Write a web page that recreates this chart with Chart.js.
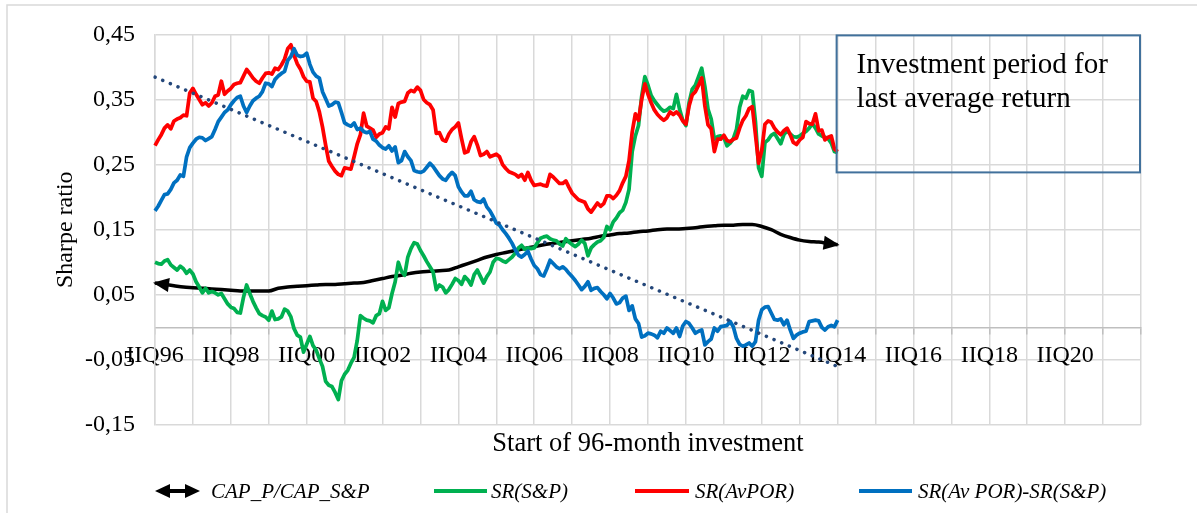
<!DOCTYPE html>
<html>
<head>
<meta charset="utf-8">
<script src="https://cdn.jsdelivr.net/npm/chart.js@4.4.1/dist/chart.umd.min.js"></script>
<style>
  html, body { margin: 0; padding: 0; background: #fff; }
  #wrap { width: 1197px; height: 513px; }
</style>
</head>
<body>
<div id="wrap"><canvas id="sharpeChart" width="1197" height="513"></canvas></div>
<script>
// Tháng bắt đầu đầu tư (IIQ96 = 04/1996), trục kéo dài tới IIQ22
const MONTH_NAMES = ['Jan','Feb','Mar','Apr','May','Jun','Jul','Aug','Sep','Oct','Nov','Dec'];
const months = [];
for (let i = 0; i <= 312; i++) {
    const m = 3 + i;
    months.push(MONTH_NAMES[m % 12] + ' ' + (1996 + Math.floor(m / 12)));
}

// Nhãn trục x, mỗi 2 năm
const xTickLabels = ['IIQ96','IIQ98','IIQ00','IIQ02','IIQ04','IIQ06','IIQ08','IIQ10','IIQ12','IIQ14','IIQ16','IIQ18','IIQ20'];

// SR(AvPOR), theo tháng
const srAvPor = [
    0.279,0.288,0.296,0.306,0.311,0.305,0.317,0.320,0.322,0.326,
    0.325,0.360,0.367,0.358,0.350,0.342,0.345,0.340,0.345,0.355,
    0.357,0.378,0.358,0.363,0.367,0.373,0.375,0.376,0.386,0.396,
    0.390,0.383,0.378,0.375,0.383,0.390,0.391,0.389,0.398,0.396,
    0.403,0.412,0.428,0.434,0.418,0.405,0.397,0.385,0.378,0.377,
    0.352,0.347,0.331,0.308,0.280,0.255,0.247,0.240,0.235,0.233,
    0.245,0.244,0.243,0.262,0.282,0.296,0.329,0.309,0.306,0.303,
    0.292,0.297,0.299,0.308,0.305,0.338,0.323,0.344,0.346,0.347,
    0.360,0.364,0.362,0.369,0.364,0.350,0.345,0.342,0.334,0.298,
    0.299,0.288,0.286,0.297,0.304,0.308,0.314,0.290,0.268,0.270,
    0.285,0.293,0.280,0.264,0.266,0.270,0.262,0.264,0.266,0.262,
    0.250,0.244,0.239,0.237,0.235,0.231,0.235,0.226,0.238,0.226,
    0.218,0.219,0.220,0.218,0.217,0.235,0.231,0.226,0.221,0.221,
    0.225,0.215,0.206,0.201,0.196,0.194,0.192,0.182,0.177,0.184,
    0.191,0.186,0.190,0.202,0.202,0.198,0.203,0.210,0.222,0.232,
    0.256,0.300,0.328,0.318,0.350,0.374,0.358,0.345,0.334,0.327,
    0.322,0.318,0.322,0.331,0.327,0.331,0.326,0.317,0.312,0.340,
    0.357,0.362,0.372,0.383,0.340,0.311,0.305,0.270,0.289,0.289,
    0.295,0.287,0.285,0.289,0.291,0.306,0.318,0.325,0.336,0.339,
    0.296,0.252,0.272,0.312,0.317,0.315,0.306,0.300,0.296,0.302,
    0.306,0.296,0.284,0.281,0.288,0.292,0.316,0.313,0.312,0.328,
    0.302,0.303,0.288,0.292,0.294,0.274,0.270
];

// SR(S&P), theo tháng
const srSP = [
    0.100,0.098,0.097,0.102,0.104,0.096,0.092,0.088,0.094,0.090,
    0.083,0.088,0.082,0.070,0.062,0.053,0.060,0.053,0.055,0.053,
    0.050,0.052,0.044,0.036,0.031,0.029,0.023,0.022,0.046,0.065,
    0.052,0.040,0.030,0.021,0.018,0.016,0.011,0.025,0.012,0.013,
    0.016,0.028,0.025,0.016,-0.002,-0.012,-0.015,-0.038,-0.026,-0.014,
    -0.028,-0.035,-0.048,-0.060,-0.083,-0.089,-0.091,-0.100,-0.111,-0.082,
    -0.072,-0.066,-0.055,-0.046,-0.020,0.018,0.014,0.011,0.010,0.007,
    0.018,0.021,0.040,0.026,0.030,0.052,0.070,0.100,0.086,0.080,
    0.108,0.121,0.130,0.128,0.118,0.110,0.101,0.093,0.085,0.058,
    0.065,0.062,0.053,0.058,0.066,0.075,0.072,0.066,0.078,0.073,
    0.065,0.081,0.088,0.078,0.068,0.078,0.085,0.100,0.106,0.105,
    0.102,0.100,0.104,0.108,0.114,0.122,0.126,0.120,0.122,0.121,
    0.122,0.130,0.137,0.139,0.140,0.136,0.134,0.133,0.128,0.125,
    0.136,0.131,0.127,0.124,0.128,0.134,0.129,0.110,0.122,0.127,
    0.131,0.133,0.138,0.155,0.150,0.162,0.168,0.176,0.180,0.192,
    0.212,0.270,0.294,0.310,0.355,0.385,0.372,0.356,0.348,0.342,
    0.336,0.332,0.334,0.338,0.336,0.358,0.335,0.318,0.310,0.345,
    0.366,0.372,0.385,0.398,0.370,0.335,0.320,0.289,0.293,0.294,
    0.292,0.279,0.283,0.290,0.304,0.338,0.355,0.352,0.364,0.362,
    0.316,0.245,0.232,0.284,0.288,0.295,0.298,0.290,0.282,0.296,
    0.302,0.297,0.293,0.292,0.294,0.298,0.301,0.306,0.313,0.306,
    0.297,0.294,0.292,0.290,0.283,0.270,0.268
];

// SR(Av POR)-SR(S&P), theo tháng
const srDiff = [
    0.179,0.186,0.195,0.204,0.205,0.212,0.222,0.226,0.234,0.232,
    0.262,0.276,0.283,0.289,0.292,0.291,0.287,0.290,0.293,0.304,
    0.316,0.323,0.330,0.334,0.342,0.348,0.353,0.355,0.340,0.330,
    0.340,0.348,0.352,0.355,0.362,0.375,0.374,0.370,0.381,0.386,
    0.390,0.393,0.410,0.416,0.428,0.418,0.416,0.417,0.421,0.404,
    0.392,0.386,0.383,0.362,0.351,0.340,0.342,0.346,0.345,0.330,
    0.314,0.311,0.309,0.314,0.304,0.306,0.301,0.299,0.301,0.289,
    0.286,0.280,0.276,0.274,0.279,0.271,0.277,0.253,0.256,0.270,
    0.262,0.256,0.241,0.239,0.238,0.240,0.246,0.252,0.247,0.240,
    0.233,0.228,0.226,0.233,0.238,0.233,0.216,0.208,0.202,0.202,
    0.209,0.196,0.193,0.192,0.197,0.185,0.179,0.170,0.160,0.157,
    0.150,0.144,0.137,0.129,0.119,0.111,0.108,0.112,0.117,0.105,
    0.095,0.090,0.081,0.079,0.090,0.103,0.098,0.093,0.090,0.093,
    0.089,0.083,0.078,0.072,0.065,0.058,0.063,0.070,0.057,0.060,
    0.061,0.055,0.050,0.044,0.052,0.045,0.036,0.038,0.045,0.048,
    0.026,0.033,0.013,0.006,-0.015,-0.013,-0.009,-0.010,-0.012,-0.016,
    -0.006,-0.009,-0.001,-0.005,-0.009,-0.001,-0.014,0.002,0.009,0.006,
    -0.001,-0.009,-0.006,-0.004,-0.027,-0.022,-0.018,-0.001,-0.006,0.001,
    0.002,0.003,0.009,0.001,-0.017,-0.026,-0.029,-0.027,-0.024,-0.029,
    -0.022,0.011,0.027,0.031,0.032,0.022,0.012,0.011,0.013,0.004,
    0.011,-0.004,-0.017,-0.012,-0.009,-0.007,-0.006,0.009,0.010,0.011,
    0.010,0.000,-0.004,0.001,0.003,0.001,0.011
];

// CAP_P/CAP_S&P, theo quý (mỗi 3 tháng)
const capRatio = [
    0.068,0.066,0.064,0.062,0.061,0.060,0.059,0.058,0.057,0.056,
    0.056,0.056,0.056,0.060,0.062,0.063,0.064,0.065,0.066,0.066,
    0.067,0.068,0.069,0.072,0.075,0.078,0.080,0.083,0.085,0.086,
    0.087,0.088,0.093,0.098,0.103,0.108,0.112,0.115,0.118,0.121,
    0.124,0.127,0.129,0.131,0.133,0.135,0.137,0.140,0.142,0.144,
    0.145,0.147,0.148,0.150,0.151,0.151,0.152,0.153,0.155,0.156,
    0.157,0.157,0.158,0.158,0.155,0.150,0.143,0.138,0.134,0.132,
    0.131,0.129,0.127
];

const FONT = '"Liberation Serif", "Times New Roman", serif';
const COLORS = { cap: '#000000', sp: '#00B050', por: '#FF0000', diff: '#0070C0', trend: '#24477A' };

// Đường xu hướng tuyến tính (bình phương nhỏ nhất) của SR(Av POR)-SR(S&P)
function linearTrend(values) {
    const n = values.length;
    let sx = 0, sy = 0, sxy = 0, sxx = 0;
    values.forEach((v, i) => { sx += i; sy += v; sxy += i * v; sxx += i * i; });
    const b = (n * sxy - sx * sy) / (n * sxx - sx * sx);
    const a = (sy - b * sx) / n;
    return [{ x: months[0], y: a }, { x: months[n - 1], y: a + b * (n - 1) }];
}

function arrowHead(ctx, tip, from, len, half) {
    const ang = Math.atan2(tip.y - from.y, tip.x - from.x);
    ctx.save();
    ctx.translate(tip.x, tip.y);
    ctx.rotate(ang);
    ctx.beginPath();
    ctx.moveTo(2, 0);
    ctx.lineTo(2 - len, -half);
    ctx.lineTo(2 - len, half);
    ctx.closePath();
    ctx.fill();
    ctx.restore();
}

// Vẽ phần trang trí: viền, mũi tên, hộp chú thích, tiêu đề trục x, chú giải
const decorPlugin = {
    id: 'decor',
    beforeDraw(chart) {
        const ctx = chart.ctx;
        ctx.save();
        ctx.fillStyle = '#fff';
        ctx.fillRect(0, 0, chart.width, chart.height);
        ctx.strokeStyle = '#D9D9D9';
        ctx.lineWidth = 1.5;
        ctx.strokeRect(7, 5, chart.width + 20, chart.height + 20);
        ctx.restore();
    },
    afterDatasetsDraw(chart) {
        const ctx = chart.ctx;
        const idx = chart.data.datasets.findIndex(d => d.label === 'CAP_P/CAP_S&P');
        const pts = chart.getDatasetMeta(idx).data;
        ctx.save();
        ctx.fillStyle = COLORS.cap;
        arrowHead(ctx, pts[0], pts[1], 16, 7);
        arrowHead(ctx, pts[pts.length - 1], pts[pts.length - 2], 16, 7);
        ctx.restore();
    },
    afterDraw(chart) {
        const ctx = chart.ctx;
        const area = chart.chartArea;
        const x = chart.scales.x;
        ctx.save();

        // Hộp "Investment period for last average return"
        const bx = x.getPixelForValue(216) - 1;
        ctx.strokeStyle = '#41719C';
        ctx.lineWidth = 2;
        ctx.strokeRect(bx, area.top + 1, area.right - 1 - bx, 137);
        ctx.fillStyle = '#000';
        ctx.font = '29px ' + FONT;
        ctx.textAlign = 'left';
        ctx.textBaseline = 'alphabetic';
        ctx.fillText('Investment period for', bx + 20, area.top + 39);
        ctx.fillText('last average return', bx + 20, area.top + 73);

        // Tiêu đề trục x
        ctx.font = '26.5px ' + FONT;
        ctx.textAlign = 'center';
        ctx.fillText('Start of 96-month investment', (area.left + area.right) / 2, area.bottom + 26);

        // Chú giải
        const items = [
            { label: 'CAP_P/CAP_S&P', color: COLORS.cap, arrow: true, x0: 155, x1: 200, tx: 211 },
            { label: 'SR(S&P)', color: COLORS.sp, x0: 434, x1: 487, tx: 491 },
            { label: 'SR(AvPOR)', color: COLORS.por, x0: 635, x1: 689, tx: 695 },
            { label: 'SR(Av POR)-SR(S&P)', color: COLORS.diff, x0: 859, x1: 912, tx: 918 }
        ];
        const ly = 491;
        ctx.font = 'italic 21px ' + FONT;
        ctx.textAlign = 'left';
        ctx.textBaseline = 'middle';
        items.forEach(it => {
            ctx.strokeStyle = it.color;
            ctx.fillStyle = it.color;
            ctx.lineWidth = 4;
            ctx.beginPath();
            ctx.moveTo(it.x0 + (it.arrow ? 8 : 0), ly);
            ctx.lineTo(it.x1 - (it.arrow ? 8 : 0), ly);
            ctx.stroke();
            if (it.arrow) {
                arrowHead(ctx, { x: it.x1 - 2, y: ly }, { x: it.x0, y: ly }, 15, 7);
                arrowHead(ctx, { x: it.x0 + 2, y: ly }, { x: it.x1, y: ly }, 15, 7);
            }
            ctx.fillStyle = '#000';
            ctx.fillText(it.label, it.tx, ly + 1);
        });
        ctx.restore();
    }
};

const lineStyle = { pointRadius: 0, borderWidth: 3.75, fill: false, tension: 0, borderJoinStyle: 'round' };

new Chart(document.getElementById('sharpeChart'), {
    type: 'line',
    data: {
        labels: months,
        datasets: [
            { label: 'Trend', data: linearTrend(srDiff), borderColor: COLORS.trend, borderWidth: 3.5,
              borderDash: [0.1, 8.2], borderCapStyle: 'round', pointRadius: 0, fill: false },
            { label: 'SR(Av POR)-SR(S&P)', data: srDiff, borderColor: COLORS.diff, ...lineStyle },
            { label: 'SR(AvPOR)', data: srAvPor, borderColor: COLORS.por, ...lineStyle },
            { label: 'SR(S&P)', data: srSP, borderColor: COLORS.sp, ...lineStyle },
            { label: 'CAP_P/CAP_S&P', data: capRatio.map((v, i) => ({ x: months[i * 3], y: v })),
              borderColor: COLORS.cap, pointRadius: 0, borderWidth: 3.5, fill: false,
              cubicInterpolationMode: 'monotone' }
        ]
    },
    options: {
        responsive: false,
        animation: false,
        devicePixelRatio: 1,
        layout: { padding: { left: 0, top: 31, right: 56, bottom: 88 } },
        plugins: { legend: { display: false }, tooltip: { enabled: false } },
        scales: {
            x: {
                type: 'category',
                position: { y: 0 },
                offset: false,
                grid: {
                    color: c => (c.index % 12 === 0 ? '#D9D9D9' : 'rgba(0,0,0,0)'),
                    lineWidth: 1.5,
                    tickLength: 6,
                    tickColor: c => (c.index % 12 === 0 ? '#BFBFBF' : 'rgba(0,0,0,0)')
                },
                border: { color: '#BFBFBF', width: 1.5 },
                ticks: {
                    autoSkip: false,
                    maxRotation: 0,
                    minRotation: 0,
                    padding: 8,
                    color: '#000',
                    font: { family: FONT, size: 24 },
                    callback: (v, i) => (i % 24 === 0 && xTickLabels[i / 24] ? xTickLabels[i / 24] : '')
                }
            },
            y: {
                min: -0.15,
                max: 0.45,
                afterFit: s => { s.width = 155; },
                grid: { color: '#D9D9D9', lineWidth: 1.5, drawTicks: false },
                border: { color: '#D9D9D9', width: 1.5 },
                ticks: {
                    stepSize: 0.1,
                    padding: 20,
                    color: '#000',
                    font: { family: FONT, size: 24 },
                    callback: v => v.toFixed(2).replace('.', ',')
                },
                title: {
                    display: true,
                    text: 'Sharpe ratio',
                    color: '#000',
                    font: { family: FONT, size: 24 },
                    padding: { top: 51, bottom: 0 }
                }
            }
        }
    },
    plugins: [decorPlugin]
});
</script>
</body>
</html>
